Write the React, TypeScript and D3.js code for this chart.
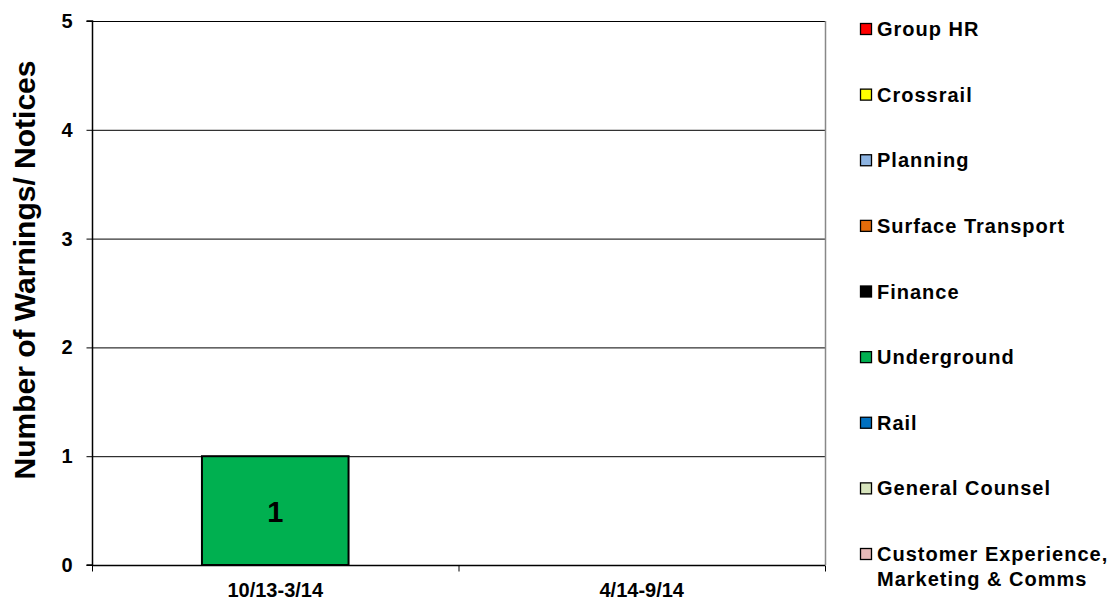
import * as d3 from "d3";
import { useEffect, useRef } from "react";

const periods = ["10/13-3/14", "4/14-9/14"];
const seriesNames = [
  "Group HR",
  "Crossrail",
  "Planning",
  "Surface Transport",
  "Finance",
  "Underground",
  "Rail",
  "General Counsel",
  "Customer Experience, Marketing & Comms",
];
const seriesColors = ["#FF0000", "#FFFF00", "#8DB4E2", "#E46C0A", "#000000", "#00B050", "#0070C0", "#D7E4BD", "#E6B9B8"];
// values per series, one per period
const groupHR = [0, 0];
const crossrail = [0, 0];
const planning = [0, 0];
const surfaceTransport = [0, 0];
const finance = [0, 0];
const underground = [1, 0];
const rail = [0, 0];
const generalCounsel = [0, 0];
const customerExp = [0, 0];
const yTicks = [0, 1, 2, 3, 4, 5];

const App = () => {
  const ref = useRef<SVGSVGElement>(null);

  useEffect(() => {
    const svg = d3.select(ref.current);
    svg.selectAll("*").remove();

    const width = 1119;
    const height = 602;
    const left = 92, right = 825, top = 21, bottom = 565;
    const font = "'Liberation Sans', Arial, sans-serif";

    const allValues = [groupHR, crossrail, planning, surfaceTransport, finance, underground, rail, generalCounsel, customerExp];
    const table = periods.map((p, i) => {
      const row: any = { period: p };
      seriesNames.forEach((s, j) => (row[s] = allValues[j][i]));
      return row;
    });
    const stacked = d3.stack().keys(seriesNames)(table);

    const x = d3.scaleBand().domain(periods).range([left, right]).paddingInner(0).paddingOuter(0);
    const y = d3.scaleLinear().domain([0, 5]).range([bottom, top]);

    svg.attr("width", width).attr("height", height);
    svg.append("rect").attr("width", width).attr("height", height).attr("fill", "#fff");

    // gridlines
    svg.append("g")
      .selectAll("line")
      .data(yTicks.filter((d) => d > 0))
      .enter()
      .append("line")
      .attr("x1", left)
      .attr("x2", right)
      .attr("y1", (d) => y(d) + 0.5)
      .attr("y2", (d) => y(d) + 0.5)
      .attr("stroke", "#000")
      .attr("stroke-width", 1);

    // right border
    svg.append("line")
      .attr("x1", right + 0.5).attr("x2", right + 0.5)
      .attr("y1", top).attr("y2", bottom)
      .attr("stroke", "#888").attr("stroke-width", 1.5);

    // bars
    const barW = x.bandwidth() * 0.4;
    stacked.forEach((layer, j) => {
      svg.append("g")
        .selectAll("rect")
        .data(layer.filter((d) => d[1] - d[0] > 0))
        .enter()
        .append("rect")
        .attr("x", (d: any) => x(d.data.period)! + (x.bandwidth() - barW) / 2)
        .attr("y", (d) => y(d[1]))
        .attr("width", barW)
        .attr("height", (d) => y(d[0]) - y(d[1]))
        .attr("fill", seriesColors[j])
        .attr("stroke", "#000")
        .attr("stroke-width", 2);

      svg.append("g")
        .selectAll("text")
        .data(layer.filter((d) => d[1] - d[0] > 0))
        .enter()
        .append("text")
        .attr("x", (d: any) => x(d.data.period)! + x.bandwidth() / 2)
        .attr("y", (d) => (y(d[0]) + y(d[1])) / 2 + 11)
        .attr("text-anchor", "middle")
        .attr("font-family", font)
        .attr("font-weight", "bold")
        .attr("font-size", 29)
        .text((d) => d[1] - d[0]);
    });

    // y axis
    const yAxis = d3.axisLeft(y).tickValues(yTicks).tickSize(6).tickPadding(14).tickFormat(d3.format("d"));
    const gy = svg.append("g").attr("transform", `translate(${left + 0.5},0)`).call(yAxis);
    gy.select(".domain").attr("stroke", "#000").attr("stroke-width", 1.5).attr("d", `M-6,${bottom}H0V${top}H-6`);
    gy.selectAll("text").attr("font-family", font).attr("font-weight", "bold").attr("font-size", 20).attr("fill", "#000");

    // x axis
    const xEdges = d3.scaleOrdinal<string, number>().domain(periods).range(periods.map((p) => x(p)!));
    const gx = svg.append("g").attr("transform", `translate(0,${bottom + 0.5})`);
    gx.append("line").attr("x1", left).attr("x2", right).attr("stroke", "#000").attr("stroke-width", 1.5);
    gx.selectAll("line.tick")
      .data([...periods.map((p) => xEdges(p)), right])
      .enter()
      .append("line")
      .attr("class", "tick")
      .attr("x1", (d) => d + 0.5)
      .attr("x2", (d) => d + 0.5)
      .attr("y1", 0)
      .attr("y2", 6)
      .attr("stroke", "#000");
    gx.selectAll("text")
      .data(periods)
      .enter()
      .append("text")
      .attr("x", (d) => x(d)! + x.bandwidth() / 2)
      .attr("y", 31)
      .attr("text-anchor", "middle")
      .attr("font-family", font)
      .attr("font-weight", "bold")
      .attr("font-size", 20)
      .text((d) => d);

    // y title
    svg.append("text")
      .attr("transform", `translate(35,${(top + bottom) / 2 - 23}) rotate(-90)`)
      .attr("text-anchor", "middle")
      .attr("font-family", font)
      .attr("font-weight", "bold")
      .attr("font-size", 30)
      .text("Number of Warnings/ Notices");

    // legend
    const legendY = d3.scalePoint().domain(seriesNames).range([29, 554]);
    const lg = svg.append("g");
    seriesNames.forEach((s, j) => {
      const cy = legendY(s)!;
      lg.append("rect")
        .attr("x", 860.5)
        .attr("y", cy - 5.5)
        .attr("width", 11)
        .attr("height", 11)
        .attr("fill", seriesColors[j])
        .attr("stroke", "#000")
        .attr("stroke-width", 1.3);
      const lines = s === "Customer Experience, Marketing & Comms" ? ["Customer Experience,", "Marketing & Comms"] : [s];
      lines.forEach((t, k) => {
        lg.append("text")
          .attr("x", 877)
          .attr("y", cy + 7 + k * 25)
          .attr("font-family", font)
          .attr("font-weight", "bold")
          .attr("font-size", 20)
          .attr("letter-spacing", 1)
          .attr("fill", "#000")
          .text(t);
      });
    });
  }, []);

  return <svg ref={ref} style={{ display: "block", position: "fixed", top: 0, left: 0 }} />;
};

export default App;
